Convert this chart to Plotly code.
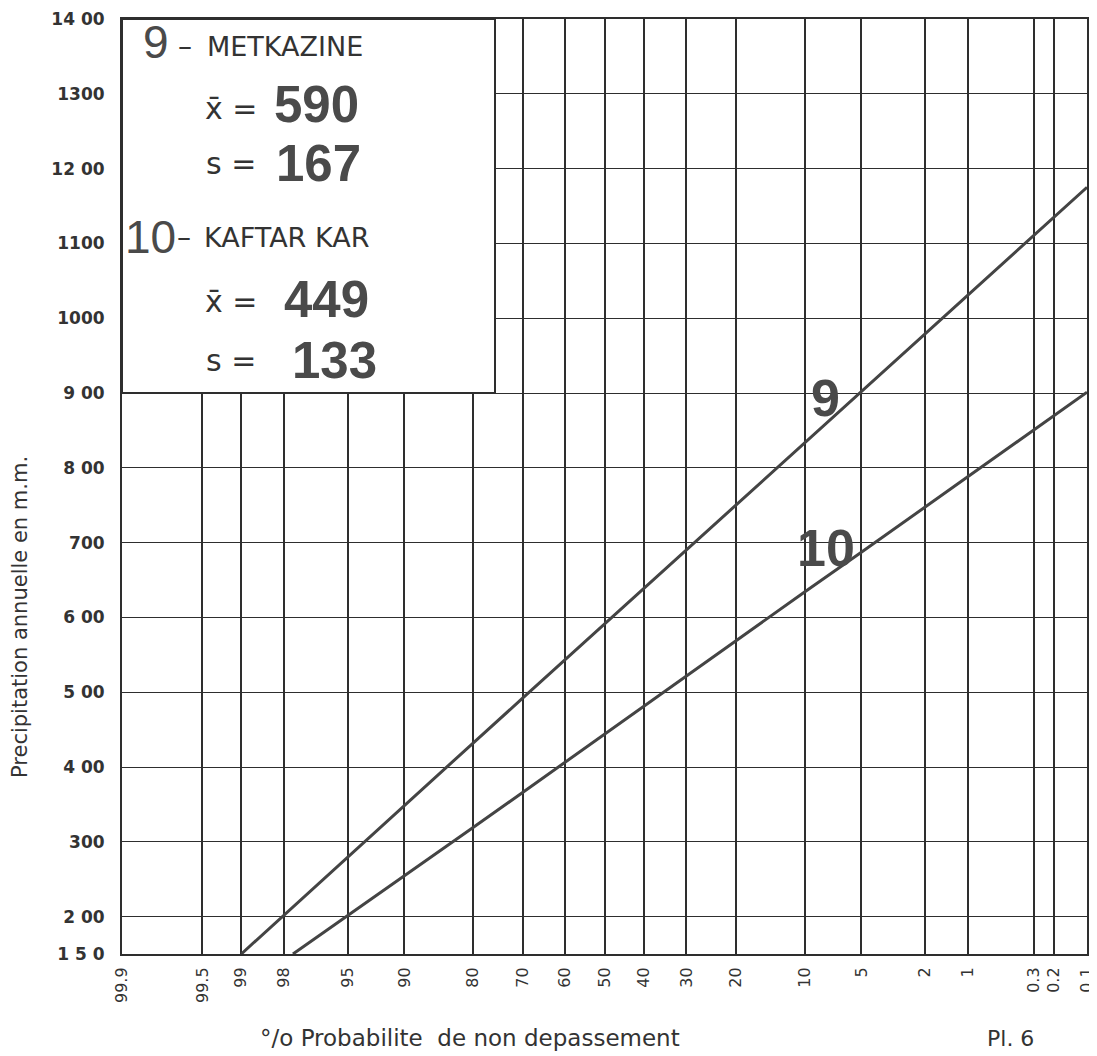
import plotly.graph_objects as go
from statistics import NormalDist

# ---- data ----
prob_ticks = [99.9, 99.5, 99, 98, 95, 90, 80, 70, 60, 50, 40, 30, 20, 10, 5, 2, 1, 0.3, 0.2, 0.1]
prob_labels = ["99.9", "99.5", "99", "98", "95", "90", "80", "70", "60", "50",
               "40", "30", "20", "10", "5", "2", "1", "0.3", "0.2", "0.1"]
y_ticks = [150, 200, 300, 400, 500, 600, 700, 800, 900, 1000, 1100, 1200, 1300, 1400]
y_labels = ["1 5 0", "2 00", "300", "4 00", "5 00", "6 00", "700", "8 00", "9 00",
            "1000", "1100", "12 00", "1300", "14 00"]

# station 9 - METKAZINE
s9_prob = [99, 95, 90, 80, 70, 50, 30, 20, 10, 5, 2, 1, 0.1]
s9_vals = [150, 280, 349, 432, 492, 591, 690, 750, 833, 902, 979, 1031, 1175]
# station 10 - KAFTAR KAR
s10_prob = [97.7, 95, 90, 80, 70, 50, 30, 20, 10, 5, 2, 1, 0.1]
s10_vals = [150, 201, 254, 319, 366, 444, 522, 569, 634, 687, 748, 788, 901]

stations = ["METKAZINE", "KAFTAR KAR"]
station_ids = ["9", "10"]
means = [590, 449]
stds = [167, 133]

nd = NormalDist()


def pos(p):
    # normal probability paper position (non-exceedance decreasing to the right)
    return -nd.inv_cdf(p / 100.0)


OFF = 8  # page body margin
W, H = 1097 - OFF, 1056 - OFF
# target plot area in window pixels: x 122..1087, y TOP..954
TOP = 19
L, T = 122 - OFF, TOP - OFF
R = W - (1087 - OFF)
B = H - (954 - OFF)
PW, PH = W - L - R, H - T - B


def px(x):
    return (x - 122) / PW


def py(y):
    return (954 - y) / PH


LINE = "#444444"
GRID = "#2e2e2e"
TXT = "#333333"
BIG = "#4a4a4a"

fig = go.Figure()
for probs, vals in [(s9_prob, s9_vals), (s10_prob, s10_vals)]:
    fig.add_trace(go.Scatter(
        x=[pos(p) for p in probs], y=vals, mode="lines",
        line=dict(color=LINE, width=3), showlegend=False, hoverinfo="skip"))

xr = [pos(99.9), pos(0.1)]

fig.update_layout(
    width=W, height=H,
    margin=dict(l=L, r=R, t=T, b=B, autoexpand=False),
    paper_bgcolor="white", plot_bgcolor="white",
    xaxis=dict(
        range=xr, tickvals=[pos(p) for p in prob_ticks], ticktext=prob_labels,
        tickangle=-90, showgrid=True, gridcolor=GRID, gridwidth=1.6,
        zeroline=False, showline=True, linecolor=GRID, linewidth=2, mirror=True,
        ticks="", ticklabelstandoff=5, ticklabeloverflow="allow",
        tickfont=dict(family="DejaVu Sans", size=16, color=TXT),
    ),
    yaxis=dict(
        range=[150, 1400], tickvals=y_ticks, ticktext=y_labels,
        showgrid=True, gridcolor=GRID, gridwidth=1.4,
        zeroline=False, showline=True, linecolor=GRID, linewidth=2, mirror=True,
        ticks="", ticklabelstandoff=12, ticklabeloverflow="allow",
        tickfont=dict(family="DejaVu Sans", size=17, color=TXT, weight="bold"),
    ),
)

# inset box (white, covering grid)
fig.add_shape(type="rect", xref="paper", yref="y", x0=0, x1=px(495), y0=900, y1=1400,
              fillcolor="white", line=dict(color=GRID, width=2), layer="above")


def ann(text, x, y, size, color=TXT, anchor="left", bold=False, family="Liberation Sans", angle=0):
    fig.add_annotation(
        text=text, xref="paper", yref="paper", x=px(x), y=py(y),
        xanchor=anchor, yanchor="middle", showarrow=False, textangle=angle,
        font=dict(family=family, size=size, color=color, weight="bold" if bold else "normal"))


# box contents
ann(station_ids[0], 141, 42, 46, BIG)
ann("–", 176, 46, 28, TXT, family="DejaVu Sans")
ann(stations[0], 205, 46, 27, TXT, family="DejaVu Sans")
ann("x\u0304 =", 203, 108, 30, TXT, family="DejaVu Sans")
ann(str(means[0]), 272, 104, 51, BIG, bold=True)
ann("s =", 204, 163, 30, TXT, family="DejaVu Sans")
ann(str(stds[0]), 274, 164, 51, BIG, bold=True)

ann(station_ids[1], 123, 237, 46, BIG)
ann("–", 175, 237, 28, TXT, family="DejaVu Sans")
ann(stations[1], 202, 237, 27, TXT, family="DejaVu Sans")
ann("x\u0304 =", 203, 301, 30, TXT, family="DejaVu Sans")
ann(str(means[1]), 282, 299, 51, BIG, bold=True)
ann("s =", 204, 360, 30, TXT, family="DejaVu Sans")
ann(str(stds[1]), 290, 360, 51, BIG, bold=True)

# line labels
ann(station_ids[0], 825, 398, 52, BIG, anchor="center", bold=True)
ann(station_ids[1], 826, 548, 52, BIG, anchor="center", bold=True)

# axis titles
ann("°/o Probabilite  de non depassement", 470, 1038, 23, TXT, anchor="center", family="DejaVu Sans")
ann("Pl. 6", 1010, 1038, 22, TXT, anchor="center", family="DejaVu Sans")
ann("Precipitation annuelle en m.m.", 20, 617, 21, TXT, anchor="center", family="DejaVu Sans", angle=-90)

fig.write_html("out.html")
